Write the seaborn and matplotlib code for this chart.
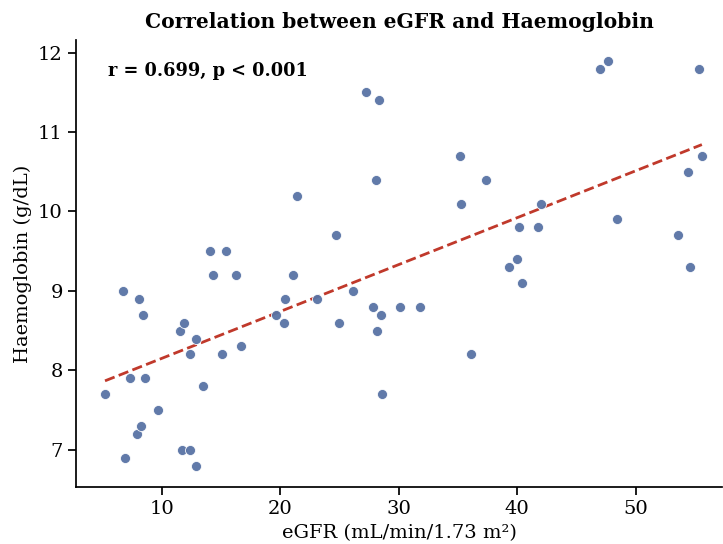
import matplotlib
matplotlib.use("Agg")
import matplotlib.pyplot as plt
import seaborn as sns
import numpy as np
import pandas as pd

egfr = [5.2, 6.7, 6.9, 7.3, 7.9, 8.1, 8.2, 8.4, 8.6, 9.7,
        11.5, 11.7, 11.9, 12.4, 12.4, 12.9, 12.9, 13.5, 14.1, 14.3,
        15.1, 15.4, 16.3, 16.7, 19.6, 20.3, 20.4, 21.1, 21.4, 23.1,
        24.7, 25.0, 26.1, 27.2, 27.8, 28.1, 28.3, 28.2, 28.5, 28.6,
        30.1, 31.8, 35.2, 35.3, 36.1, 37.4, 39.3, 40.0, 40.2, 40.4,
        41.8, 42.0, 47.0, 47.7, 48.4, 53.6, 54.4, 54.6, 55.4, 55.6]
hb = [7.7, 9.0, 6.9, 7.9, 7.2, 8.9, 7.3, 8.7, 7.9, 7.5,
      8.5, 7.0, 8.6, 7.0, 8.2, 6.8, 8.4, 7.8, 9.5, 9.2,
      8.2, 9.5, 9.2, 8.3, 8.7, 8.6, 8.9, 9.2, 10.2, 8.9,
      9.7, 8.6, 9.0, 11.5, 8.8, 10.4, 11.4, 8.5, 8.7, 7.7,
      8.8, 8.8, 10.7, 10.1, 8.2, 10.4, 9.3, 9.4, 9.8, 9.1,
      9.8, 10.1, 11.8, 11.9, 9.9, 9.7, 10.5, 9.3, 11.8, 10.7]

title = "Correlation between eGFR and Haemoglobin"
annot = "r = 0.699, p < 0.001"
xlabel = "eGFR (mL/min/1.73 m²)"
ylabel = "Haemoglobin (g/dL)"

df = pd.DataFrame({"eGFR": egfr, "Hb": hb})

sns.set_theme(style="ticks")
plt.rcParams["font.family"] = ["DejaVu Serif", "DejaVu Sans"]
plt.rcParams["text.color"] = "black"
plt.rcParams["axes.labelcolor"] = "black"
plt.rcParams["xtick.color"] = "black"
plt.rcParams["ytick.color"] = "black"
plt.rcParams["axes.edgecolor"] = "black"

fig = plt.figure(figsize=(7.23, 5.44), dpi=100)
ax = fig.add_axes([76/723, 1-487/544, (722-76)/723, (487-40)/544])

sns.scatterplot(data=df, x="eGFR", y="Hb", ax=ax, color="#5873a5", s=52,
                edgecolor="white", linewidth=0.6, alpha=0.95, zorder=3)
sns.regplot(data=df, x="eGFR", y="Hb", ax=ax, scatter=False, ci=None,
            line_kws=dict(color="#c0392b", linestyle="--", linewidth=2))

ax.set_xlim(2.75, 57.3)
ax.set_ylim(6.53, 12.16)
ax.set_xticks([10, 20, 30, 40, 50])
ax.set_yticks([7, 8, 9, 10, 11, 12])
ax.tick_params(labelsize=14)
ax.set_xlabel(xlabel, fontsize=14)
ax.set_ylabel(ylabel, fontsize=14)
ax.set_title(title, fontsize=14.6, fontweight="bold", pad=9)
ax.text(0.05, 0.93, annot, transform=ax.transAxes, fontsize=12.8,
        fontweight="bold", va="center", ha="left")
sns.despine(ax=ax)

fig.savefig("out.png", dpi=100)
